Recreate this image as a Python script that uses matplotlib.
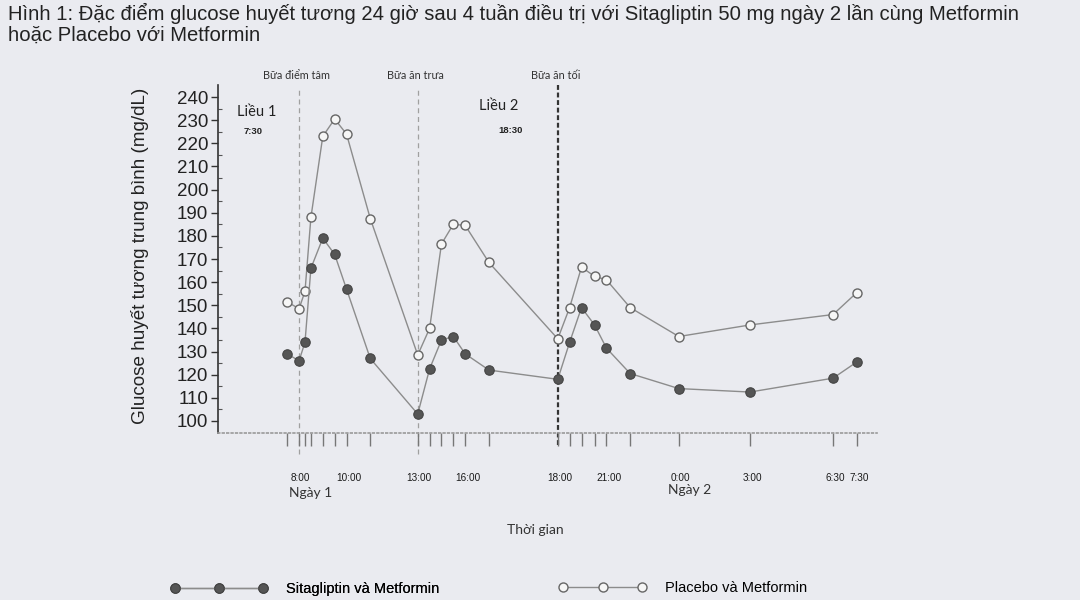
import matplotlib
matplotlib.use('Agg')
import matplotlib.pyplot as plt

# sampling times in clock hours (day 2 = +24)
times = [7.5, 8.0, 8.25, 8.5, 9.0, 9.5, 10.0, 11.0, 13.0, 13.5, 14.0, 14.5,
         15.0, 16.0, 18.9, 19.4, 19.9, 20.45, 20.95, 21.95, 24.0, 27.0, 30.5, 31.5]

sitagliptin = [129, 126, 134, 166, 179, 172, 157, 127, 103, 122.5, 135, 136.5,
               129, 122, 118, 134, 149, 141.5, 131.5, 120.5, 114, 112.5, 118.5, 125.5]
placebo = [151.5, 148.5, 156, 188, 223, 230.5, 224, 187.5, 128.5, 140, 176.5, 185,
           184.5, 168.5, 135.5, 149, 166.5, 162.5, 161, 149, 136.5, 141.5, 146, 155.5]

meal_times = [8.0, 13.0, 18.9]
meal_labels = ['Bữa điểm tâm', 'Bữa ăn trưa', 'Bữa ăn tối']

tick_pos = [8.05, 10.1, 13.05, 15.1, 19.0, 21.05, 24.05, 27.1, 30.6, 31.6]
tick_labels = ['8:00', '10:00', '13:00', '16:00', '18:00', '21:00',
               '0:00', '3:00', '6:30', '7:30']

BG = '#eaebf0'
fig = plt.figure(figsize=(10.8, 6), dpi=100, facecolor=BG)
ax = fig.add_axes([218 / 1080, 1 - 433 / 600, 659 / 1080, 348 / 600])
ax.set_facecolor(BG)

# meal markers
for t, lab in zip(meal_times, meal_labels):
    if lab == 'Bữa ăn tối':
        ax.axvline(t, ymin=-0.035, ymax=1.0, color='#333333', lw=1.6,
                   ls=(0, (2.2, 1.2)), clip_on=False, zorder=1)
    else:
        ax.axvline(t, ymin=-0.06, ymax=0.99, color='#a0a0a0', lw=0.9,
                   ls=(0, (4, 3)), clip_on=False, zorder=1)
    ax.text(t - 0.1, 249.5, lab, ha='center', va='center', fontsize=7.8,
            family='Lato', color='#333333', clip_on=False)

ax.plot(times, placebo, '-', color='#8c8c8c', lw=1.0, marker='o', ms=6.5,
        mfc='#f6f6f6', mec='#666666', mew=1.0, zorder=3,
        label='Placebo và Metformin')
ax.plot(times, sitagliptin, '-', color='#8c8c8c', lw=1.0, marker='o', ms=6.8,
        mfc='#555555', mec='#444444', mew=0.8, zorder=4,
        label='Sitagliptin và Metformin')

ax.set_xlim(4.585, 32.35)
ax.set_ylim(94.8, 245.2)

for s in ['top', 'right']:
    ax.spines[s].set_visible(False)
ax.spines['left'].set_color('#333333')
ax.spines['left'].set_linewidth(1.2)
ax.spines['bottom'].set_color('#9a9a9a')
ax.spines['bottom'].set_linestyle(':')
ax.spines['bottom'].set_linewidth(1.2)

ax.set_yticks(range(100, 241, 10))
ax.set_yticks(range(105, 241, 10), minor=True)
ax.tick_params(axis='y', which='major', length=5, width=1, color='#333333',
               labelsize=13.5, pad=2, labelcolor='#222222')
ax.tick_params(axis='y', which='minor', length=3, width=0.8, color='#555555',
               direction='in')
for lab in ax.get_yticklabels():
    lab.set_family('Liberation Sans')

ax.set_xticks(tick_pos)
ax.set_xticklabels(tick_labels, fontsize=7.2, family='Liberation Sans', color='#1a1a1a')
ax.set_xticks(times, minor=True)
ax.tick_params(axis='x', which='major', length=0, pad=29)
ax.tick_params(axis='x', which='minor', length=9, width=1.0, color='#777777')

# dose annotations
ax.text(6.2, 233.5, 'Liều 1', ha='center', va='center', fontsize=10.5, family='Lato', color='#222222')
ax.text(6.05, 225.3, '7:30', ha='center', va='center', fontsize=6.8, fontweight='bold',
        family='Liberation Sans', color='#222222')
ax.text(16.4, 236.1, 'Liều 2', ha='center', va='center', fontsize=10.5, family='Lato', color='#222222')
ax.text(16.9, 225.7, '18:30', ha='center', va='center', fontsize=6.8, fontweight='bold',
        family='Liberation Sans', color='#222222')

fig.text(311 / 1080, 1 - 493 / 600, 'Ngày 1', ha='center', va='center', fontsize=10,
         family='Lato', color='#333333')
fig.text(690 / 1080, 1 - 490 / 600, 'Ngày 2', ha='center', va='center', fontsize=10,
         family='Lato', color='#333333')
fig.text(535 / 1080, 1 - 530 / 600, 'Thời gian', ha='center', va='center', fontsize=10,
         family='Lato', color='#333333')
fig.text(140 / 1080, 1 - 256 / 600, 'Glucose huyết tương trung bình (mg/dL)',
         rotation=90, ha='center', va='center', fontsize=13.6, family='Liberation Sans',
         color='#222222')

fig.text(8 / 1080, 1 - 3 / 600,
         'Hình 1: Đặc điểm glucose huyết tương 24 giờ sau 4 tuần điều trị với Sitagliptin '
         '50 mg ngày 2 lần cùng Metformin\nhoặc Placebo với Metformin',
         ha='left', va='top', fontsize=14.6, family='Liberation Sans',
         color='#222222', linespacing=1.08)

# legend, two separate entries to pin positions
handles, labels = ax.get_legend_handles_labels()
leg1 = fig.legend([handles[1]], [labels[1]], loc='center left',
                  bbox_to_anchor=(171 / 1080, 1 - 589 / 600), frameon=False,
                  numpoints=3, handlelength=6.6, handletextpad=1.3, borderpad=0,
                  borderaxespad=0, prop={'family': 'Liberation Sans', 'size': 10.5})
fig.add_artist(leg1)
fig.legend([handles[0]], [labels[0]], loc='center left',
           bbox_to_anchor=(559 / 1080, 1 - 588 / 600), frameon=False,
           numpoints=3, handlelength=6.0, handletextpad=1.3, borderpad=0,
           borderaxespad=0, prop={'family': 'Liberation Sans', 'size': 10.5})

fig.savefig('out.png', dpi=100, facecolor=BG)
